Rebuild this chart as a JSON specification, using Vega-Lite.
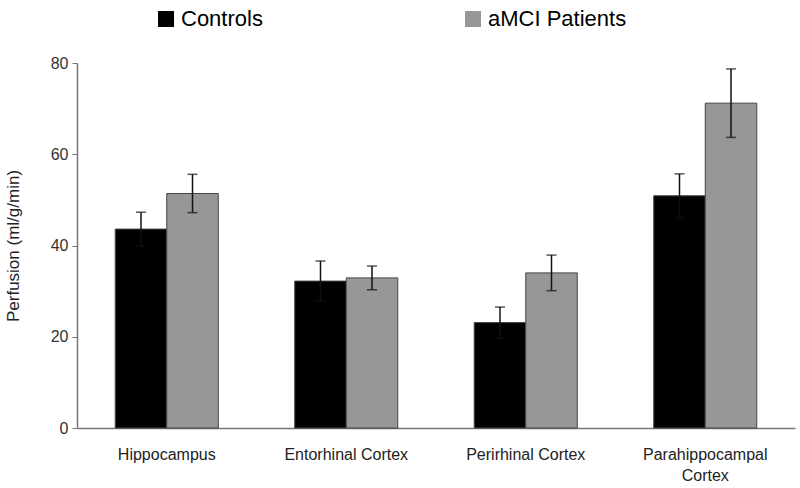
{
  "$schema": "https://vega.github.io/schema/vega-lite/v6.json",
  "width": 718,
  "height": 365,
  "autosize": "none",
  "padding": {"left": 77, "top": 63, "right": 5, "bottom": 60},
  "background": "white",
  "config": {
    "view": {"stroke": null},
    "font": "Liberation Sans"
  },
  "data": {
    "values": [
      {"region": "Hippocampus", "group": "Controls", "value": 43.6, "lo": 39.9, "hi": 47.3},
      {"region": "Hippocampus", "group": "aMCI Patients", "value": 51.4, "lo": 47.2, "hi": 55.6},
      {"region": "Entorhinal Cortex", "group": "Controls", "value": 32.2, "lo": 27.8, "hi": 36.6},
      {"region": "Entorhinal Cortex", "group": "aMCI Patients", "value": 32.9, "lo": 30.3, "hi": 35.5},
      {"region": "Perirhinal Cortex", "group": "Controls", "value": 23.1, "lo": 19.7, "hi": 26.5},
      {"region": "Perirhinal Cortex", "group": "aMCI Patients", "value": 34.0, "lo": 30.1, "hi": 37.9},
      {"region": "Parahippocampal Cortex", "group": "Controls", "value": 50.9, "lo": 46.1, "hi": 55.7},
      {"region": "Parahippocampal Cortex", "group": "aMCI Patients", "value": 71.2, "lo": 63.7, "hi": 78.7}
    ]
  },
  "encoding": {
    "x": {
      "field": "region",
      "type": "nominal",
      "sort": null,
      "scale": {"paddingInner": 0, "paddingOuter": 0},
      "axis": {
        "title": null,
        "labelAngle": 0,
        "ticks": false,
        "labelPadding": 18,
        "labelFontSize": 16,
        "labelColor": "#222",
        "labelLineHeight": 21,
        "domainColor": "#777",
        "domainWidth": 1.5,
        "labelExpr": "datum.label == 'Parahippocampal Cortex' ? ['Parahippocampal', 'Cortex'] : datum.label"
      }
    },
    "xOffset": {
      "field": "group",
      "type": "nominal",
      "sort": ["Controls", "aMCI Patients"],
      "scale": {"paddingInner": 0, "paddingOuter": 0.742}
    }
  },
  "layer": [
    {
      "mark": {"type": "bar", "stroke": "#444", "strokeWidth": 1},
      "encoding": {
        "y": {
          "field": "value",
          "type": "quantitative",
          "scale": {"domain": [0, 80], "nice": false},
          "axis": {
            "title": "Perfusion (ml/g/min)",
            "titleFontSize": 17,
            "titleFontWeight": "normal",
            "titleColor": "#222",
            "titlePadding": 28,
            "values": [0, 20, 40, 60, 80],
            "grid": false,
            "tickSize": 5,
            "tickColor": "#777",
            "domainColor": "#777",
            "domainWidth": 1.5,
            "labelFontSize": 16,
            "labelColor": "#333",
            "labelPadding": 4
          }
        },
        "color": {
          "field": "group",
          "type": "nominal",
          "scale": {"domain": ["Controls", "aMCI Patients"], "range": ["#000000", "#979797"]},
          "legend": {
            "title": null,
            "orient": "none",
            "legendX": 78,
            "legendY": -55,
            "direction": "horizontal",
            "symbolType": "square",
            "symbolSize": 256,
            "symbolStrokeWidth": 0,
            "labelFontSize": 22,
            "labelColor": "#000",
            "labelOffset": 4,
            "columnPadding": 199
          }
        }
      }
    },
    {
      "mark": {"type": "rule", "color": "#111", "strokeWidth": 1.5},
      "encoding": {
        "y": {"field": "lo", "type": "quantitative"},
        "y2": {"field": "hi"}
      }
    },
    {
      "mark": {"type": "tick", "color": "#111", "size": 10, "thickness": 1.5},
      "encoding": {
        "y": {"field": "hi", "type": "quantitative"}
      }
    },
    {
      "mark": {"type": "tick", "color": "#111", "size": 10, "thickness": 1.5},
      "encoding": {
        "y": {"field": "lo", "type": "quantitative"}
      }
    }
  ]
}
